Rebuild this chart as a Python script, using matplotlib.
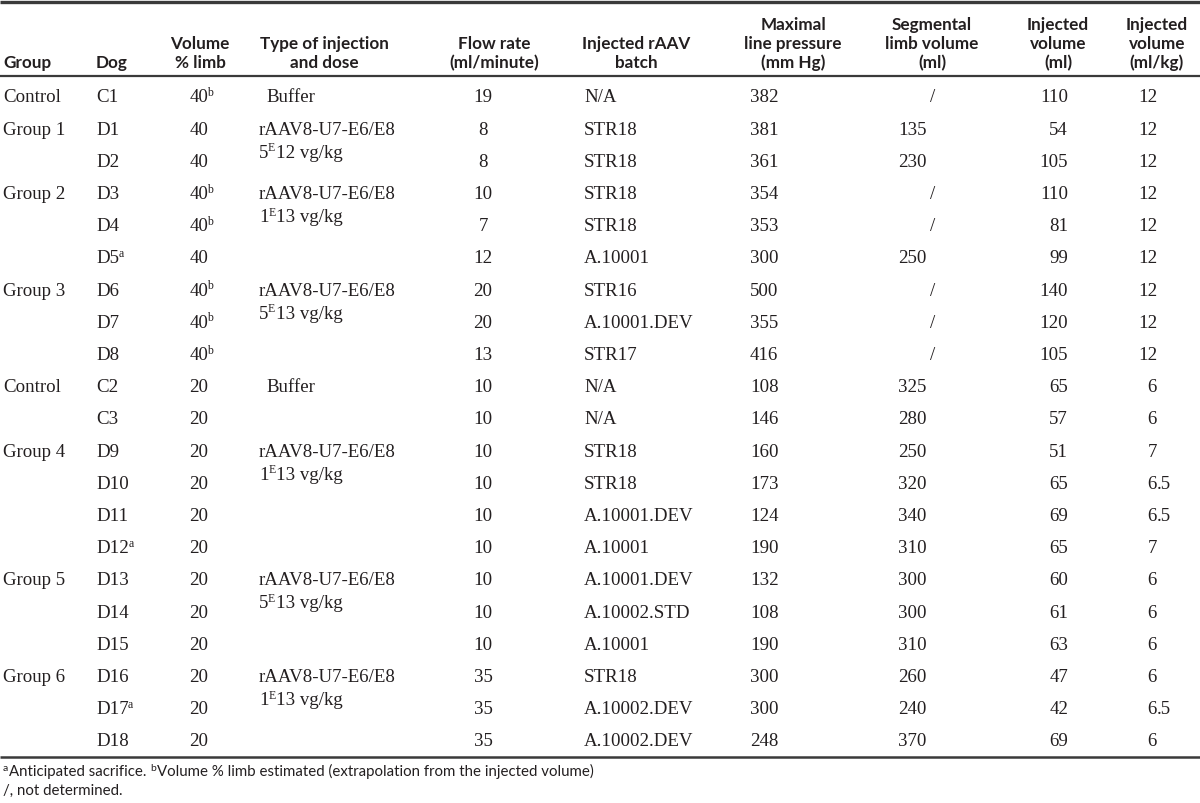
import matplotlib
matplotlib.use("Agg")
import matplotlib.pyplot as plt

# ---------------- data ----------------
groups = ["Control", "Group 1", "", "Group 2", "", "", "Group 3", "", "",
          "Control", "", "Group 4", "", "", "", "Group 5", "", "", "Group 6", "", ""]
dogs = ["C1", "D1", "D2", "D3", "D4", "D5", "D6", "D7", "D8", "C2", "C3",
        "D9", "D10", "D11", "D12", "D13", "D14", "D15", "D16", "D17", "D18"]
dog_sup = ["", "", "", "", "", "a", "", "", "", "", "", "", "", "", "a",
           "", "", "", "", "a", ""]
vol_pct = ["40", "40", "40", "40", "40", "40", "40", "40", "40", "20", "20",
           "20", "20", "20", "20", "20", "20", "20", "20", "20", "20"]
vol_sup = ["b", "", "", "b", "b", "", "b", "b", "b", "", "", "", "", "", "",
           "", "", "", "", "", ""]
# injection type/dose text: first row of each group, agent, dose mantissa, dose exponent
inj_rows = [0, 1, 3, 6, 9, 11, 15, 18]
inj_agent = ["Buffer", "rAAV8-U7-E6/E8", "rAAV8-U7-E6/E8", "rAAV8-U7-E6/E8",
             "Buffer", "rAAV8-U7-E6/E8", "rAAV8-U7-E6/E8", "rAAV8-U7-E6/E8"]
inj_dose_m = ["", "5", "1", "5", "", "1", "5", "1"]
inj_dose_e = ["", "12", "13", "13", "", "13", "13", "13"]
flow = ["19", "8", "8", "10", "7", "12", "20", "20", "13", "10", "10", "10",
        "10", "10", "10", "10", "10", "10", "35", "35", "35"]
batch = ["N/A", "STR18", "STR18", "STR18", "STR18", "A.10001", "STR16",
         "A.10001.DEV", "STR17", "N/A", "N/A", "STR18", "STR18", "A.10001.DEV",
         "A.10001", "A.10001.DEV", "A.10002.STD", "A.10001", "STR18",
         "A.10002.DEV", "A.10002.DEV"]
pressure = ["382", "381", "361", "354", "353", "300", "500", "355", "416",
            "108", "146", "160", "173", "124", "190", "132", "108", "190",
            "300", "300", "248"]
seg_vol = ["/", "135", "230", "/", "/", "250", "/", "/", "/", "325", "280",
           "250", "320", "340", "310", "300", "300", "310", "260", "240", "370"]
inj_ml = ["110", "54", "105", "110", "81", "99", "140", "120", "105", "65",
          "57", "51", "65", "69", "65", "60", "61", "63", "47", "42", "69"]
inj_mlkg = ["12", "12", "12", "12", "12", "12", "12", "12", "12", "6", "6",
            "7", "6.5", "6.5", "7", "6", "6", "6", "6", "6.5", "6"]

headers = [
    (["Group"], 3, "left"),
    (["Dog"], 96, "left"),
    (["Volume", "% limb"], 200, "center"),
    (["Type of injection", "and dose"], 324, "center"),
    (["Flow rate", "(ml/minute)"], 494, "center"),
    (["Injected rAAV", "batch"], 636, "center"),
    (["Maximal", "line pressure", "(mm Hg)"], 793, "center"),
    (["Segmental", "limb volume", "(ml)"], 932, "center"),
    (["Injected", "volume", "(ml)"], 1058, "center"),
    (["Injected", "volume", "(ml/kg)"], 1157, "center"),
]
footnote1 = [("a", True), ("Anticipated sacrifice. ", False), ("b", True),
             ("Volume % limb estimated (extrapolation from the injected volume)", False)]
footnote2 = "/, not determined."

# ---------------- layout ----------------
W, H = 1200, 804
fig = plt.figure(figsize=(12, 8.04), dpi=100)
ax = fig.add_axes([0, 0, 1, 1])
ax.set_xlim(0, W)
ax.set_ylim(H, 0)
ax.axis("off")
renderer = fig.canvas.get_renderer()

INK = "#231f20"
SERIF = "Liberation Serif"
SANS = "Lato"
BODY = 13.6
SUP = 8.5
HEAD = 12.3

row0, dy = 96.5, 32.2
base_off = 6.0  # baseline below row centre


def put(x, y, s, size=BODY, family=SERIF, ha="left", weight="normal"):
    return ax.text(x, y, s, fontsize=size, family=family, ha=ha, va="baseline",
                   color=INK, fontweight=weight)


def right_edge(t):
    return t.get_window_extent(renderer).x1


# rules
ax.plot([0, W], [2.5, 2.5], color="#3a3a3a", lw=2.4, solid_capstyle="butt")
ax.plot([0, W], [77, 77], color="#3a3a3a", lw=1.6, solid_capstyle="butt")
ax.plot([0, W], [757.5, 757.5], color="#3a3a3a", lw=1.8, solid_capstyle="butt")

# headers (bottom aligned)
hb_last, hline = 68.0, 19.0
for lines, x, ha in headers:
    n = len(lines)
    for i, line in enumerate(lines):
        yb = hb_last - (n - 1 - i) * hline
        put(x, yb, line, size=HEAD, family=SANS, ha=ha, weight="bold")

# body
for i in range(len(dogs)):
    yb = row0 + i * dy + base_off
    if groups[i]:
        put(3, yb, groups[i])
    t = put(96, yb, dogs[i])
    if dog_sup[i]:
        put(right_edge(t) - 0.5, yb - 6.5, dog_sup[i], size=SUP)
    t = put(199, yb, vol_pct[i], ha="center")
    if vol_sup[i]:
        put(right_edge(t) - 1.0, yb - 6.5, vol_sup[i], size=SUP)
    put(483, yb, flow[i], ha="center")
    put(584, yb, batch[i])
    put(750, yb, pressure[i])
    if seg_vol[i] == "/":
        put(933, yb, "/", ha="center")
    else:
        put(898, yb, seg_vol[i])
    put(1068, yb, inj_ml[i], ha="right")
    parts = inj_mlkg[i].split(".")
    put(1157, yb, parts[0], ha="right")
    if len(parts) > 1:
        put(1157, yb, "." + parts[1])

for k, r in enumerate(inj_rows):
    yb = row0 + r * dy + base_off
    if inj_agent[k] == "Buffer":
        put(266, yb, inj_agent[k])
        continue
    put(259, yb, inj_agent[k])
    y2 = yb + 23
    t = put(259, y2, inj_dose_m[k])
    t2 = put(right_edge(t) - 0.5, y2 - 6.5, "E", size=SUP)
    put(right_edge(t2) + 0.5, y2, inj_dose_e[k] + " vg/kg")

# footnotes
FN = 10.8
x = 3
yb = 776
for s, sup in footnote1:
    if sup:
        t = ax.text(x, yb - 5, s, fontsize=7.5, family=SANS, ha="left",
                    va="baseline", color=INK)
    else:
        t = ax.text(x, yb, s, fontsize=FN, family=SANS, ha="left",
                    va="baseline", color=INK)
    x = right_edge(t) + 0.5
ax.text(3, yb + 19, footnote2, fontsize=FN, family=SANS, ha="left",
        va="baseline", color=INK)

fig.savefig("out.png", dpi=100, facecolor="white")
